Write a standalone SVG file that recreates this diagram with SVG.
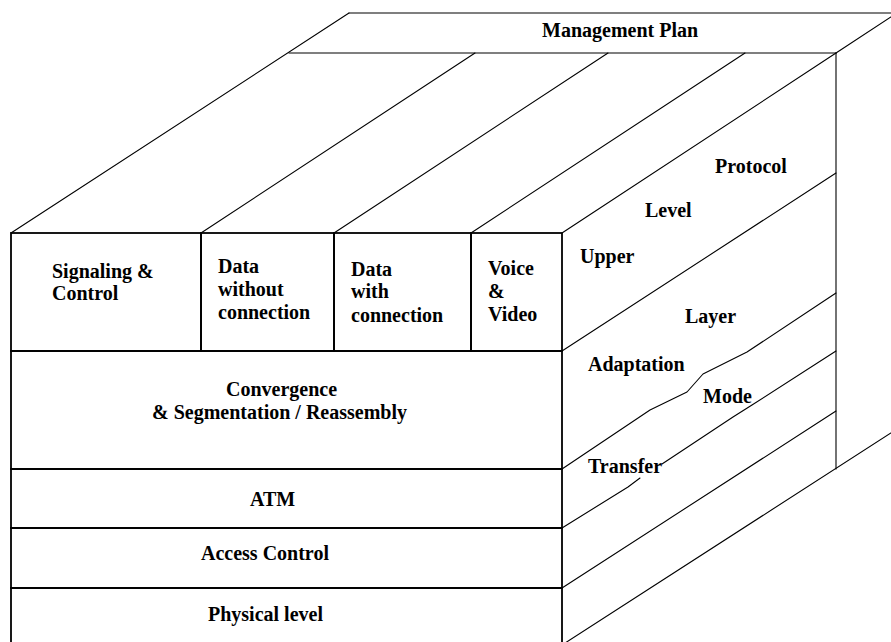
<svg xmlns="http://www.w3.org/2000/svg" width="891" height="642" viewBox="0 0 891 642">
<style>
  .bg{fill:#ffffff}
  .cell{fill:none;stroke:#000;stroke-width:1.8}
  .thin{fill:none;stroke:#000;stroke-width:1.1;stroke-linecap:round;stroke-linejoin:round}
  .lbl{font-family:"Liberation Serif","Times New Roman",serif;font-weight:bold;font-size:20px;fill:#000}
</style>
<rect class="bg" x="0" y="0" width="891" height="642"/>

<g id="connectors">
  <!-- top face -->
  <line class="thin" x1="11" y1="233" x2="349" y2="13"/>
  <line class="thin" x1="349" y1="13" x2="891" y2="13"/>
  <line class="thin" x1="289" y1="53" x2="836" y2="53"/>
  <line class="thin" x1="836" y1="53" x2="897" y2="13"/>
  <line class="thin" x1="201" y1="233" x2="475" y2="53"/>
  <line class="thin" x1="334" y1="233" x2="608" y2="53"/>
  <line class="thin" x1="471" y1="233" x2="745" y2="53"/>
  <line class="thin" x1="562" y1="233" x2="836" y2="53"/>
  <!-- side face -->
  <line class="thin" x1="836" y1="53" x2="836" y2="469"/>
  <line class="thin" x1="562" y1="351" x2="836" y2="173"/>
  <path class="thin" d="M562,469 L650,410 L687,392 L703,374 L747,352 L836,293"/>
  <path class="thin" d="M562,528 L628,487 L640,478"/>
  <path class="thin" d="M662,464 L733,417 L752,405 L836,351"/>
  <line class="thin" x1="562" y1="588" x2="836" y2="411"/>
  <line class="thin" x1="562" y1="645" x2="897" y2="429"/>
</g>

<g id="management-plan">
  <text class="lbl" x="542" y="37">Management Plan</text>
</g>

<g id="signaling-control">
  <rect class="cell" x="11" y="233" width="190" height="118"/>
  <text class="lbl" x="52" y="278">Signaling &amp;</text>
  <text class="lbl" x="52" y="300">Control</text>
</g>
<g id="data-without-connection">
  <rect class="cell" x="201" y="233" width="133" height="118"/>
  <text class="lbl" x="218" y="273">Data</text>
  <text class="lbl" x="218" y="296">without</text>
  <text class="lbl" x="218" y="319">connection</text>
</g>
<g id="data-with-connection">
  <rect class="cell" x="334" y="233" width="137" height="118"/>
  <text class="lbl" x="351" y="276">Data</text>
  <text class="lbl" x="351" y="298">with</text>
  <text class="lbl" x="351" y="322">connection</text>
</g>
<g id="voice-video">
  <rect class="cell" x="471" y="233" width="91" height="118"/>
  <text class="lbl" x="488" y="275">Voice</text>
  <text class="lbl" x="488" y="298">&amp;</text>
  <text class="lbl" x="488" y="321">Video</text>
</g>
<g id="convergence">
  <rect class="cell" x="11" y="351" width="551" height="118"/>
  <text class="lbl" x="226" y="396">Convergence</text>
  <text class="lbl" x="152" y="419">&amp; Segmentation / Reassembly</text>
</g>
<g id="atm">
  <rect class="cell" x="11" y="469" width="551" height="59"/>
  <text class="lbl" x="250" y="506">ATM</text>
</g>
<g id="access-control">
  <rect class="cell" x="11" y="528" width="551" height="60"/>
  <text class="lbl" x="201" y="560">Access Control</text>
</g>
<g id="physical-level">
  <rect class="cell" x="11" y="588" width="551" height="60"/>
  <text class="lbl" x="208" y="621">Physical level</text>
</g>

<g id="side-labels">
  <text class="lbl" x="715" y="173">Protocol</text>
  <text class="lbl" x="645" y="217">Level</text>
  <text class="lbl" x="580" y="263">Upper</text>
  <text class="lbl" x="685" y="323">Layer</text>
  <text class="lbl" x="588" y="371">Adaptation</text>
  <text class="lbl" x="703" y="403">Mode</text>
  <text class="lbl" x="588" y="473">Transfer</text>
</g>
</svg>
